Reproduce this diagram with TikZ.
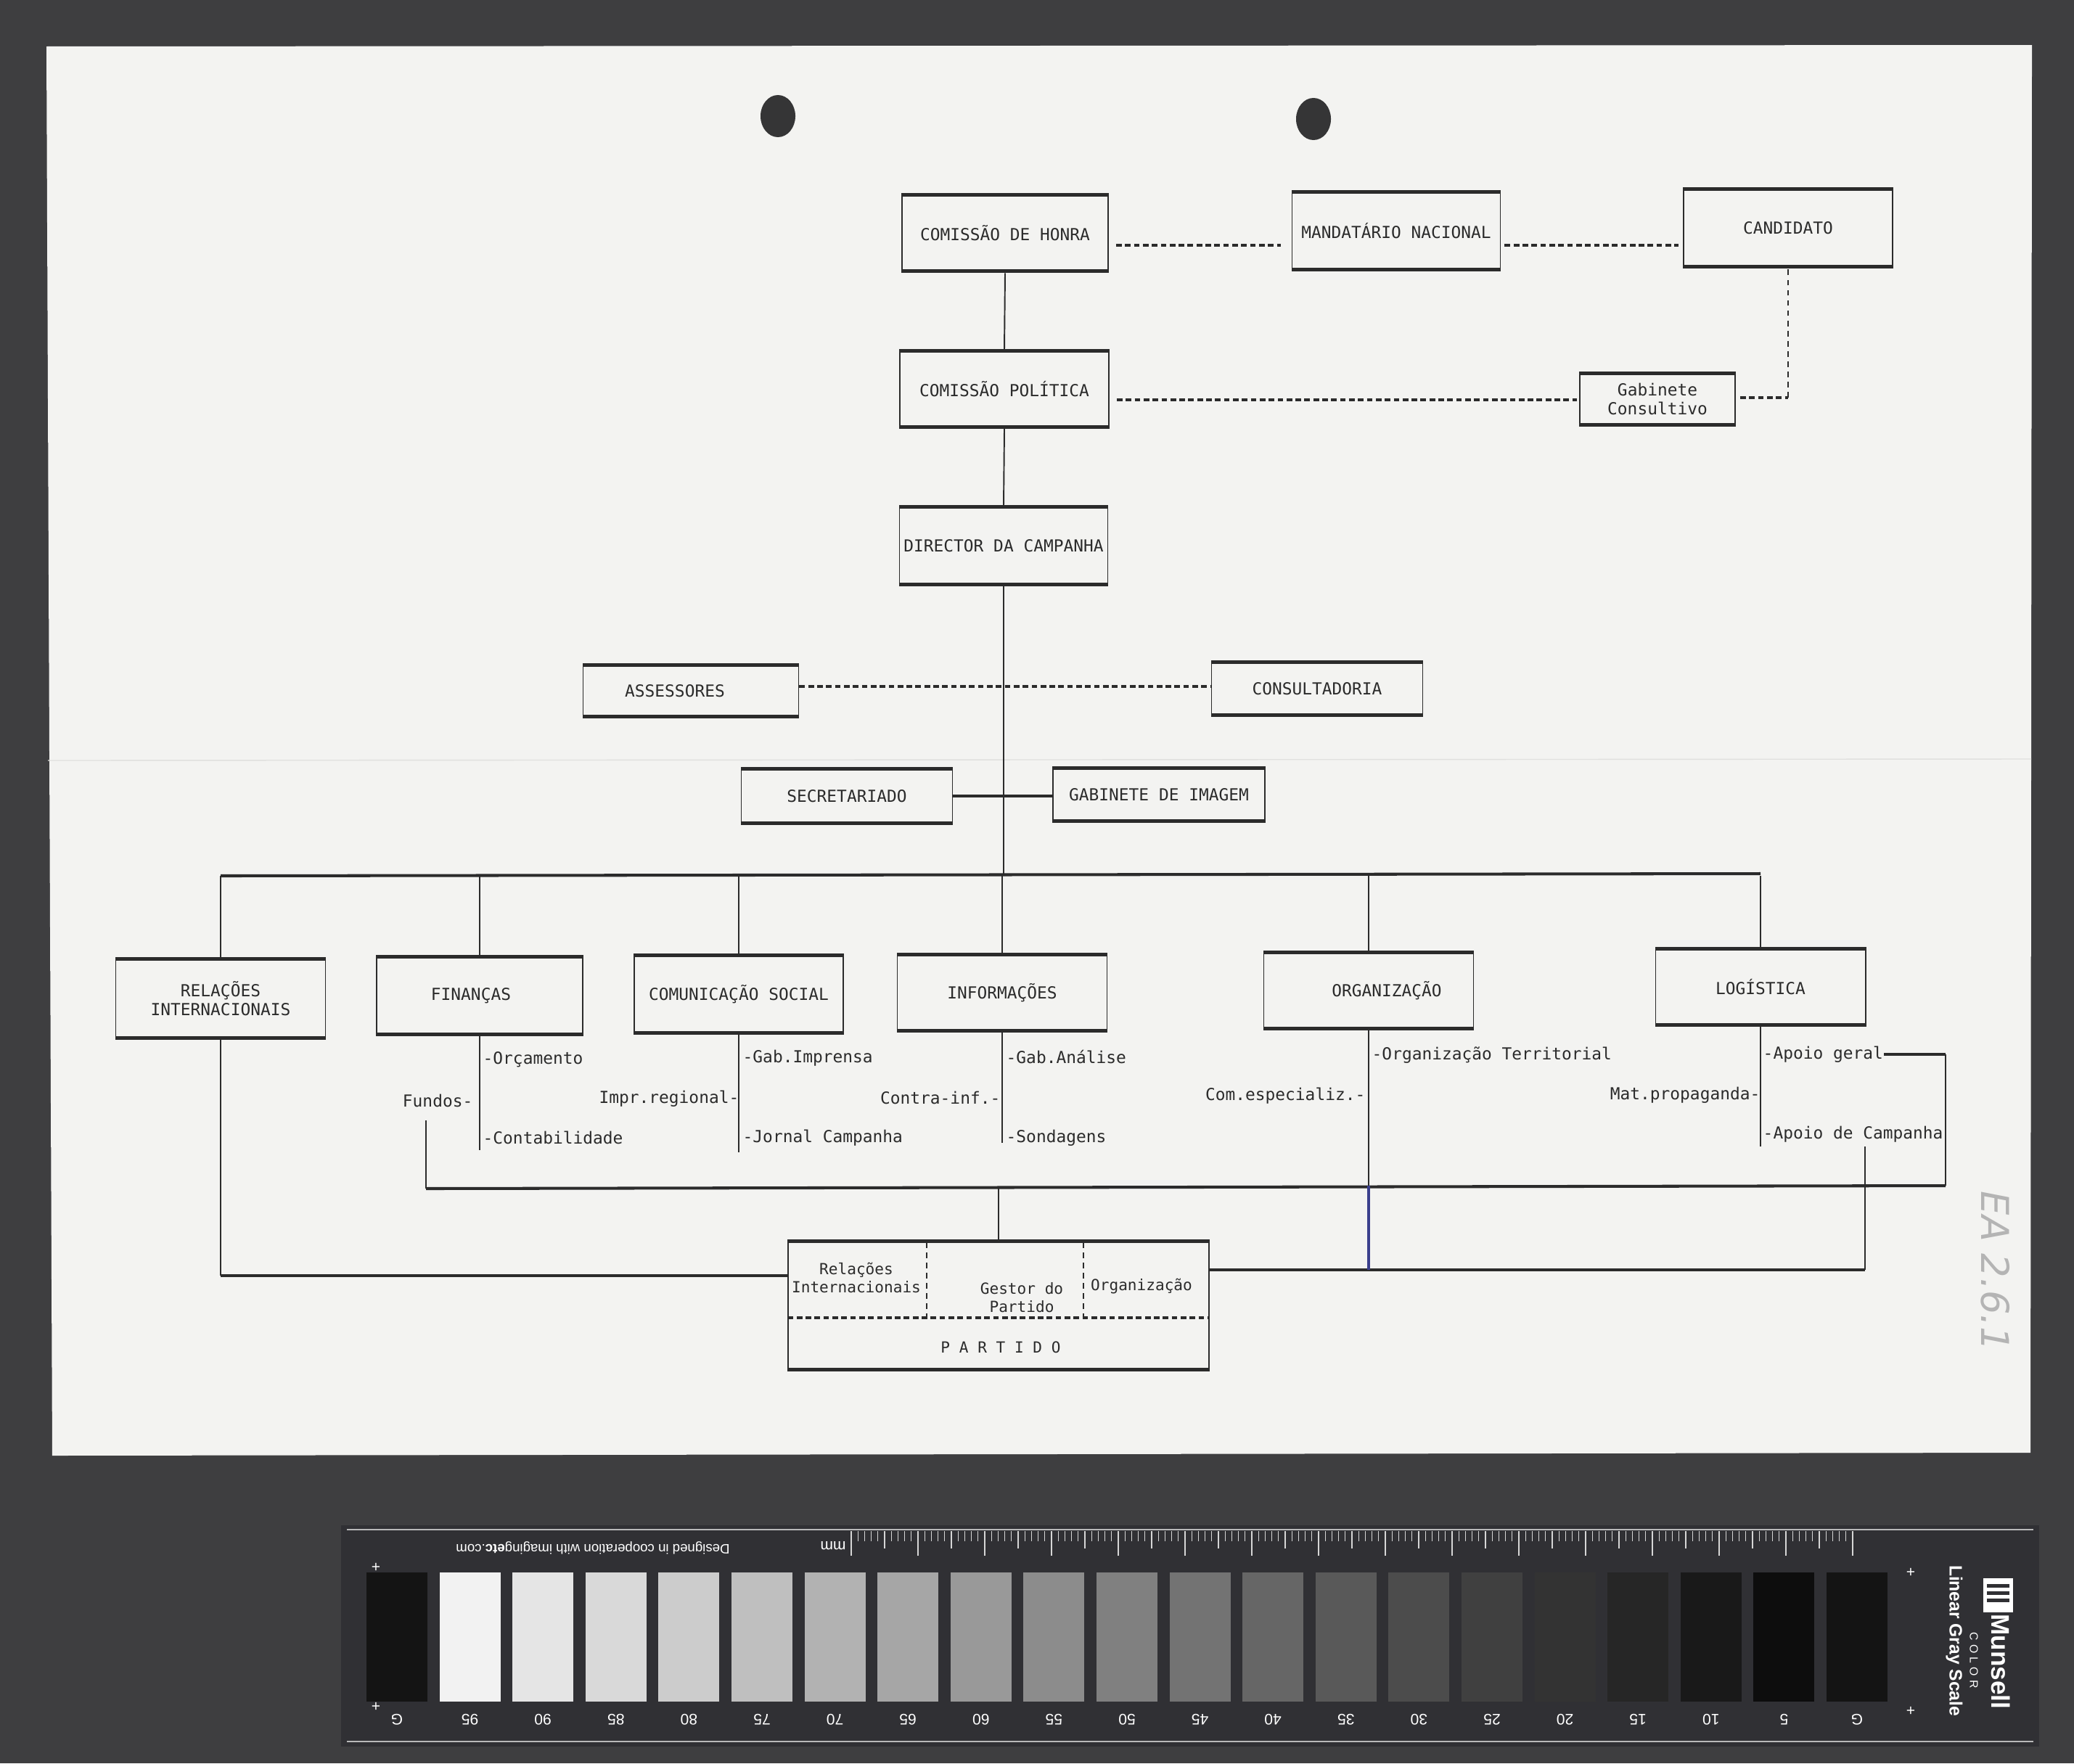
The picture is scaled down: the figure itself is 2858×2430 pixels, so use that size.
\documentclass[tikz,border=0pt]{standalone}
\usepackage{fontspec}
\usepackage{xcolor}
\usepackage{tikz}
\usetikzlibrary{positioning}

\newfontfamily\plotfont{DejaVu Sans Mono}
\newfontfamily\cardfont{Liberation Sans}
\newfontfamily\handfont{DejaVu Sans}

\definecolor{ink}{HTML}{2B2B2B}
\definecolor{paper}{HTML}{F3F3F1}
\definecolor{backdrop}{HTML}{3E3E40}
\definecolor{card}{HTML}{303034}
\definecolor{blueink}{HTML}{3A3F8C}
\definecolor{pencil}{HTML}{B4B4B4}

\begin{document}
\begin{tikzpicture}[x=0.01cm, y=-0.01cm,
    orgbox/.style={draw=ink, line width=0.5pt, inner sep=0pt, align=center, text=ink,
        font=\plotfont\fontsize{6.5pt}{7.2pt}\selectfont,
        path picture={\draw[ink, line width=2.4pt]
            (path picture bounding box.north west) -- (path picture bounding box.north east)
            (path picture bounding box.south west) -- (path picture bounding box.south east);}},
    subitem/.style={inner sep=0pt, text=ink, font=\plotfont\fontsize{6.5pt}{7.2pt}\selectfont},
    partext/.style={inner sep=0pt, text=ink, align=center, font=\plotfont\fontsize{6pt}{7.1pt}\selectfont},
    vline/.style={draw=ink, line width=0.55pt},
    hline/.style={draw=ink, line width=1.15pt},
    dashline/.style={draw=ink, line width=0.9pt, dash pattern=on 2.2pt off 1.3pt},
    thindash/.style={draw=ink, line width=0.4pt, dash pattern=on 2.2pt off 1.8pt},
    cardtext/.style={inner sep=0pt, text=white, font=\cardfont\fontsize{6pt}{6pt}\selectfont}]
\useasboundingbox (0,0) rectangle (2858,2430);

% scan: backdrop, sheet, punch holes
\fill[backdrop] (0,0) rectangle (2858,2430);
\fill[paper] (64,64) -- (2800,62) -- (2798,2002) -- (72,2006) -- cycle;
\draw[paper!92!black, line width=0.4pt] (66,1048) -- (2799,1046);
\fill[backdrop!85!black] (1072,160) ellipse [x radius=0.24cm, y radius=0.29cm];
\fill[backdrop!85!black] (1810,164) ellipse [x radius=0.24cm, y radius=0.29cm];

% top of the chart
\node[orgbox, minimum width=2.84cm, minimum height=1.09cm] (honra) at (1385,321) {COMISSÃO DE HONRA};
\node[orgbox, minimum width=2.87cm, minimum height=1.11cm] (mandat) at (1924,318) {MANDATÁRIO NACIONAL};
\node[orgbox, minimum width=2.88cm, minimum height=1.11cm] (cand) at (2464,314) {CANDIDATO};
\node[orgbox, minimum width=2.88cm, minimum height=1.08cm] (politica) at (1384,536) {COMISSÃO POLÍTICA};
\node[orgbox, minimum width=2.14cm, minimum height=0.74cm] (gabcons) at (2284,550) {Gabinete\\Consultivo};
\node[orgbox, minimum width=2.87cm, minimum height=1.10cm] (director) at (1383,752) {DIRECTOR DA CAMPANHA};
\node[orgbox, minimum width=2.97cm, minimum height=0.74cm] (assess) at (952,952) {ASSESSORES\hspace*{0.44cm}};
\node[orgbox, minimum width=2.91cm, minimum height=0.77cm] (consult) at (1815,949) {CONSULTADORIA};
\node[orgbox, minimum width=2.91cm, minimum height=0.78cm] (secret) at (1167,1097) {SECRETARIADO};
\node[orgbox, minimum width=2.92cm, minimum height=0.76cm] (gabimg) at (1597,1095) {GABINETE DE IMAGEM};

% departments
\node[orgbox, minimum width=2.89cm, minimum height=1.13cm] (relint) at (304,1376) {RELAÇÕES\\INTERNACIONAIS};
\node[orgbox, minimum width=2.84cm, minimum height=1.10cm] (financas) at (661,1372) {FINANÇAS\hspace*{0.24cm}};
\node[orgbox, minimum width=2.88cm, minimum height=1.11cm] (comsoc) at (1018,1370) {COMUNICAÇÃO SOCIAL};
\node[orgbox, minimum width=2.89cm, minimum height=1.08cm] (inform) at (1381,1368) {INFORMAÇÕES};
\node[orgbox, minimum width=2.89cm, minimum height=1.08cm] (organiz) at (1886,1365) {\hspace*{0.5cm}ORGANIZAÇÃO};
\node[orgbox, minimum width=2.89cm, minimum height=1.08cm] (logist) at (2426,1360) {LOGÍSTICA};
\node[orgbox, minimum width=5.79cm, minimum height=1.81cm] (partido) at (1376,1799) {};

% sub-items
\node[subitem, anchor=west] (orcam) at (665,1460) {-Orçamento};
\node[subitem, anchor=east] (fundos) at (652,1517) {Fundos-};
\node[subitem, anchor=west] (contab) at (665,1568) {-Contabilidade};
\node[subitem, anchor=west] (gabimp) at (1023,1458) {-Gab.Imprensa};
\node[subitem, anchor=east] (imprreg) at (1019,1514) {Impr.regional-};
\node[subitem, anchor=west] (jornal) at (1023,1568) {-Jornal Campanha};
\node[subitem, anchor=west] (gabanal) at (1386,1456) {-Gab.Análise};
\node[subitem, anchor=east] (contrainf) at (1379,1513) {Contra-inf.-};
\node[subitem, anchor=west] (sondag) at (1386,1568) {-Sondagens};
\node[subitem, anchor=west] (orgterr) at (1890,1454) {-Organização Territorial};
\node[subitem, anchor=east] (comesp) at (1882,1510) {Com.especializ.-};
\node[subitem, anchor=west] (apoiog) at (2429,1453) {-Apoio geral};
\node[subitem, anchor=east] (matprop) at (2426,1509) {Mat.propaganda-};
\node[subitem, anchor=west] (apoiocamp) at (2429,1563) {-Apoio de Campanha};

% inside PARTIDO
\node[partext] (prel) at (1180,1761) {Relações\\Internacionais};
\node[partext] (pges) at (1408,1788) {Gestor do\\Partido};
\node[partext] (porg) at (1573,1773) {Organização};
\node[partext] (ppart) at (1379,1857) {P A R T I D O};
\draw[dashline] (partido.west |- 0,1816) -- (partido.east |- 0,1816);
\draw[thindash] (1277,1712) -- (1277,1816);
\draw[thindash] (1493,1712) -- (1493,1816);

% links at the top
\draw[dashline, shorten <=0.1cm, shorten >=0.15cm] (honra.east |- 0,338) -- (mandat.west |- 0,338);
\draw[dashline, shorten <=0.05cm, shorten >=0.06cm] (mandat.east |- 0,338) -- (cand.west |- 0,338);
\draw[dashline, shorten <=0.1cm, shorten >=0.03cm] (politica.east |- 0,551) -- (gabcons.west |- 0,551);
\coordinate (gccorner) at (2464,548);
\draw[dashline, shorten <=0.06cm] (gabcons.east |- gccorner) -- (gccorner);
\draw[thindash] (gccorner) -- (cand.south);
\draw[vline] (honra.south) -- (politica.north);
\draw[vline] (politica.south) -- (director.north);
\draw[dashline] (assess.east |- 0,946) -- (consult.west |- 0,946);
\draw[hline] (secret.east) -- (secret.east -| gabimg.west);

% upper bus
\coordinate (ubL) at (304,1207);
\coordinate (ubR) at (2426,1204);
\draw[vline] (director.south) -- (director.south |- ubL);
\draw[hline] (ubL) -- (ubR);
\foreach \dept in {relint,financas,comsoc,inform,organiz,logist}
  \draw[vline] (\dept.north |- ubL) -- (\dept.north);

% stems under the departments
\draw[vline] (financas.south) -- (financas.south |- 0,1585);
\draw[vline] (comsoc.south) -- (comsoc.south |- 0,1588);
\draw[vline] (inform.south) -- (inform.south |- 0,1575);
\draw[vline] (logist.south) -- (logist.south |- 0,1580);

% lower bus to PARTIDO
\coordinate (fundosTop) at (587,1544);
\coordinate (lbL) at (587,1638);
\coordinate (lbR) at (2681,1634);
\draw[vline] (fundosTop) -- (lbL);
\draw[hline] (lbL) -- (lbR);
\draw[vline] (lbR) -- (apoiog.east -| lbR);
\draw[hline] (apoiog.east -| lbR) -- (apoiog.east);
\draw[vline] (partido.north |- lbL) -- (partido.north);

% sides of PARTIDO
\coordinate (lcorner) at (304,1758);
\coordinate (rcorner) at (2570,1750);
\coordinate (campEnd) at (2570,1580);
\draw[vline] (relint.south) -- (lcorner);
\draw[hline] (lcorner) -- (lcorner -| partido.west);
\draw[hline] (partido.east |- rcorner) -- (rcorner);
\draw[vline] (rcorner) -- (campEnd);
\draw[vline] (organiz.south) -- (organiz.south |- lbR);
\draw[blueink, line width=1.1pt] (organiz.south |- lbR) -- (organiz.south |- rcorner);

% pencil mark
\node[rotate=-90, text=pencil, font=\handfont\itshape\fontsize{15pt}{15pt}\selectfont] (shelfmark) at (2750,1752) {EA 2.6.1};

% gray scale card
\fill[card] (470,2102) rectangle (2810,2407);
\draw[gray!55, line width=0.4pt] (478,2108) -- (2802,2108);
\draw[gray!55, line width=0.4pt] (478,2400) -- (2802,2400);
\foreach \m in {0,...,150} {
  \pgfmathsetmacro\tl{ifthenelse(mod(\m,10)==0,34,ifthenelse(mod(\m,5)==0,24,14))}
  \draw[white!80!card, line width=0.35pt] (1173+9.2*\m,2110) -- ++(0,\tl);
}
\node[cardtext, rotate=180] (mmlabel) at (1148,2130) {mm};
\node[cardtext, rotate=180, font=\cardfont\fontsize{5.3pt}{5.3pt}\selectfont] (designed) at (817,2133)
  {Designed in cooperation with imaging\textbf{etc}.com};
\fill[black!92] (505,2167) rectangle ++(84,178);
\fill[black!92] (2517,2167) rectangle ++(84,178);
\node[cardtext, rotate=180] (numG) at (547,2370) {G};
\node[cardtext, rotate=180] (numGG) at (2559,2370) {G};
\foreach \i in {1,...,19} {
  \pgfmathtruncatemacro\lev{100-5*\i}
  \fill[white!\lev!black] (505+100.6*\i,2167) rectangle ++(84,178);
  \node[cardtext, rotate=180] (num\i) at (547+100.6*\i,2370) {\lev};
}
\node[cardtext] (plusA) at (518,2160) {+};
\node[cardtext] (plusB) at (518,2352) {+};
\node[cardtext] (plusC) at (2633,2167) {+};
\node[cardtext] (plusD) at (2633,2358) {+};
\fill[white] (2733,2175) rectangle (2774,2222);
\foreach \b in {2183,2193,2203} \fill[card] (2738,\b) rectangle (2769,\b+5);
\node[cardtext, rotate=-90, font=\cardfont\bfseries\fontsize{10pt}{10pt}\selectfont] (munsell) at (2757,2290) {Munsell};
\node[cardtext, rotate=-90, font=\cardfont\fontsize{4.5pt}{4.5pt}\selectfont] (munscolor) at (2720,2288) {C\,\,O\,\,L\,\,O\,\,R};
\node[cardtext, rotate=-90, font=\cardfont\bfseries\fontsize{7pt}{7pt}\selectfont] (lgscale) at (2693,2261) {Linear Gray Scale};
\end{tikzpicture}
\end{document}
